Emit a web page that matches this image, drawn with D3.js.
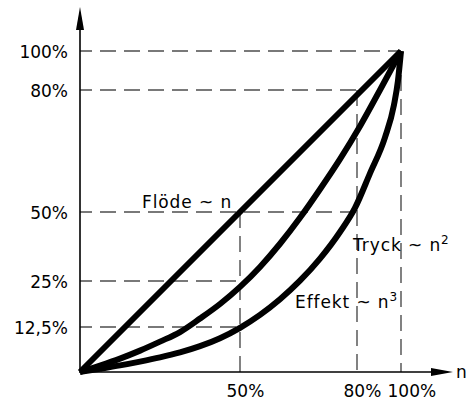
<!DOCTYPE html>
<html>
<head>
<meta charset="utf-8">
<script src="https://cdn.jsdelivr.net/npm/d3@7"></script>
<style>
  html, body { margin: 0; padding: 0; background: #fff; }
  svg { display: block; }
  text { font-family: "DejaVu Sans", sans-serif; fill: #000; }
</style>
</head>
<body>
<script>
// ---- data ----
const yTickValues = [12.5, 25, 50, 80, 100];
const yTickLabels = ["12,5%", "25%", "50%", "80%", "100%"];
const xTickValues = [50, 80, 100];
const xTickLabels = ["50%", "80%", "100%"];

// Flöde ~ n
const flowN = [0, 100];
const flowV = [0, 100];
// Tryck ~ n²
const pressN = [0, 6.25, 12.5, 18.75, 25, 31.25, 37.5, 43.75, 50, 55.13, 60.26, 65.38, 70.51, 75.64, 81.36, 90.45, 100];
const pressV = [0, 1.78, 3.72, 5.94, 8.44, 11.1, 14.8, 18.75, 23.4, 30.1, 38.5, 47.9, 55.6, 63.0, 71.1, 80, 100];
// Effekt ~ n³
const powerN = [0, 6.25, 12.5, 18.75, 25, 31.25, 37.5, 43.75, 50, 55.13, 60.26, 65.38, 70.51, 75.64, 79.49, 85.9, 92.7, 96.8, 98.6, 100];
const powerV = [0, 0.89, 1.83, 2.89, 4.06, 5.44, 7.17, 9.39, 12.28, 15.8, 20.05, 25.1, 33.1, 42.75, 51.0, 59.5, 68.3, 76.3, 84.6, 100];

// dashed guide lines
const hGuideY  = [100, 80, 50, 25, 12.5];
const hGuideTo = [100, 80, 80, 50, 50];
const vGuideX  = [50, 80, 100];
const vGuideTo = [50, 80, 100];

const curveLabels = ["Flöde ~ n", "Tryck ~ n", "Effekt ~ n"];
const curveSups = ["", "2", "3"];

// ---- layout ----
const W = 470, H = 403;
const svg = d3.select("body").append("svg").attr("width", W).attr("height", H);

// schematic (piecewise) scales as drawn in the reference
const x = d3.scaleLinear().domain([0, 50, 80, 100]).range([80, 240, 357, 401]);
const y = d3.scaleLinear().domain([0, 12.5, 25, 50, 80, 100]).range([372, 327, 281, 212, 90, 51]);

const x0 = x(0), y0 = y(0);
const xEnd = 453, yEnd = 7;

// dashed guides
const dashStyle = g => g.attr("stroke", "#4d4d4d").attr("stroke-width", 1.4)
  .attr("stroke-dasharray", "16,8").attr("fill", "none");

svg.append("g").selectAll("line").data(hGuideY).join("line")
  .attr("x1", x0).attr("x2", (d, i) => x(hGuideTo[i]))
  .attr("y1", d => y(d)).attr("y2", d => y(d))
  .attr("stroke-dashoffset", 4)
  .call(dashStyle);

svg.append("g").selectAll("line").data(vGuideX).join("line")
  .attr("x1", d => x(d)).attr("x2", d => x(d))
  .attr("y1", (d, i) => y(vGuideTo[i])).attr("y2", y0)
  .call(dashStyle);

// curves
const line = d3.line().x(d => x(d[0])).y(d => y(d[1]));
const series = [
  { pts: d3.zip(flowN, flowV), curve: d3.curveLinear },
  { pts: d3.zip(pressN, pressV), curve: d3.curveMonotoneX },
  { pts: d3.zip(powerN, powerV), curve: d3.curveMonotoneX }
];
svg.append("g").selectAll("path").data(series).join("path")
  .attr("d", s => line.curve(s.curve)(s.pts))
  .attr("fill", "none").attr("stroke", "#000").attr("stroke-width", 6)
  .attr("stroke-linejoin", "round");

// axes (tick labels via d3 axes)
const yAxis = d3.axisLeft(y).tickValues(yTickValues).tickSize(0).tickPadding(12)
  .tickFormat((d, i) => yTickLabels[i]);
const gy = svg.append("g").attr("transform", `translate(${x0},0)`).call(yAxis);
gy.select(".domain").remove();
gy.selectAll("text").style("font-family", '"DejaVu Sans", sans-serif').style("font-size", "17px").attr("fill", "#000").attr("dy", "0.36em");

const xAxis = d3.axisBottom(x).tickValues(xTickValues).tickSize(0).tickPadding(13)
  .tickFormat((d, i) => xTickLabels[i]);
const gx = svg.append("g").attr("transform", `translate(0,${y0})`).call(xAxis);
gx.select(".domain").remove();
gx.selectAll("text").style("font-family", '"DejaVu Sans", sans-serif').style("font-size", "17px")
  .attr("fill", "#000").attr("text-anchor", "start").attr("x", -14);

// axis lines with arrows
svg.append("line").attr("x1", x0).attr("x2", xEnd - 18).attr("y1", y0).attr("y2", y0)
  .attr("stroke", "#000").attr("stroke-width", 1.6);
svg.append("line").attr("x1", x0).attr("x2", x0).attr("y1", y0 + 1).attr("y2", yEnd + 18)
  .attr("stroke", "#000").attr("stroke-width", 1.6);
svg.append("path")
  .attr("d", `M${xEnd},${y0} L${xEnd - 22},${y0 - 4} L${xEnd - 22},${y0 + 4} Z`).attr("fill", "#000");
svg.append("path")
  .attr("d", `M${x0},${yEnd} L${x0 - 4},${yEnd + 23} L${x0 + 4},${yEnd + 23} Z`).attr("fill", "#000");

svg.append("text").attr("x", 456).attr("y", 378).style("font-size", "17px").text("n");

// curve labels
const labelPos = [[142, 208], [353, 251], [295, 308]];
const lbl = svg.append("g").selectAll("text").data(curveLabels).join("text")
  .attr("x", (d, i) => labelPos[i][0]).attr("y", (d, i) => labelPos[i][1])
  .style("font-size", "17px").style("letter-spacing", "0.9px");
lbl.append("tspan").text(d => d);
lbl.append("tspan").attr("dy", -7).style("font-size", "12px").text((d, i) => curveSups[i]);
</script>
</body>
</html>
